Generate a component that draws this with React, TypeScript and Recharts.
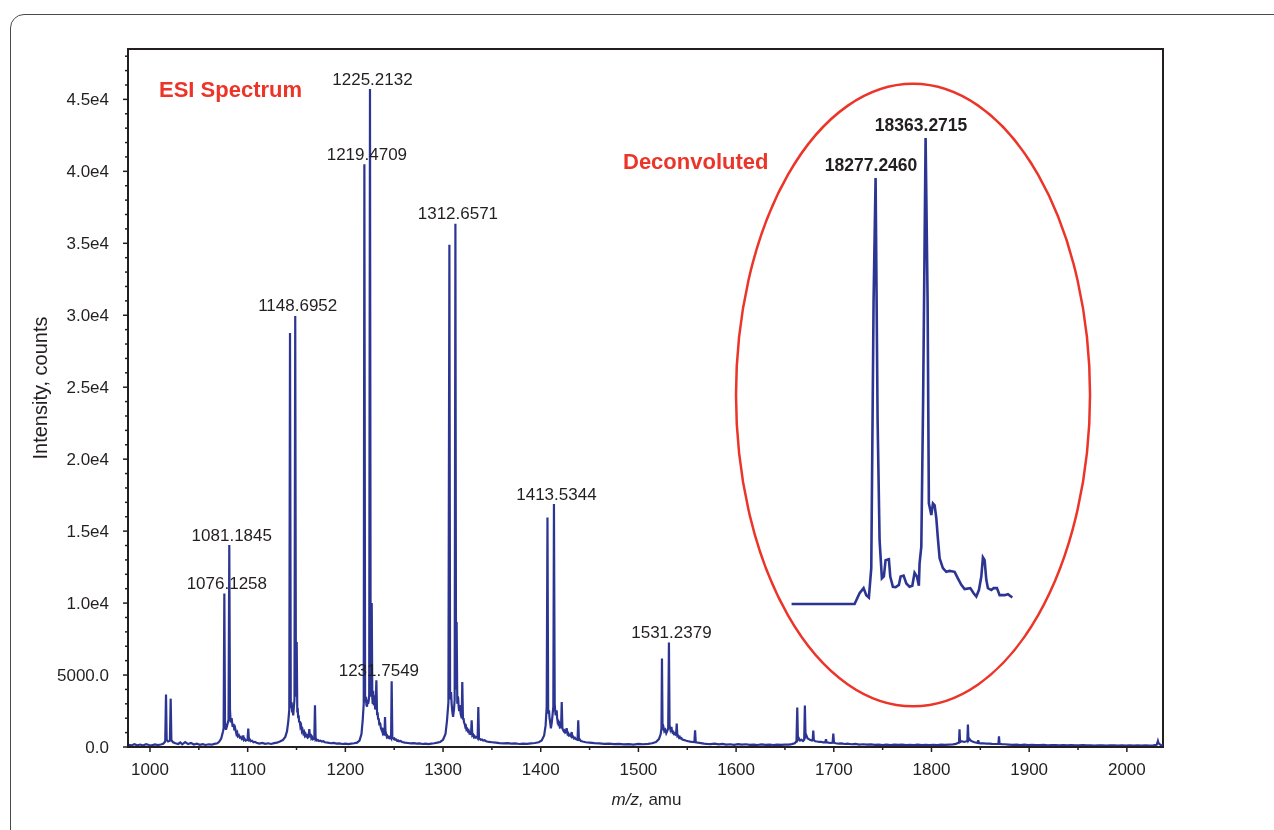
import { LineChart, Line, XAxis, YAxis, ReferenceArea, ReferenceDot, Label } from 'recharts'

const BLUE = '#2c3592'
const RED = '#ec3428'
const INK = '#231f20'
const FONT = "'Liberation Sans', Arial, sans-serif"

// ESI spectrum, [m/z, counts], grouped by charge state
const lowBaseline: [number, number][] = [
  [978, 150], [981, 110], [984, 190], [987, 120], [990, 170], [993, 100], [996, 200],
  [999, 140], [1002, 120], [1005, 180], [1008, 130], [1011, 170], [1013.5, 220],
]
const clusterZ18: [number, number][] = [
  [1015.6, 380], [1016.4, 3640], [1017.1, 520], [1018.5, 380], [1020.4, 430], [1021.2, 3360],
  [1021.9, 480], [1023.6, 330], [1026, 260], [1029, 210], [1031, 320], [1033, 190], [1036, 340],
  [1039, 200], [1042, 280], [1045, 170], [1048, 230], [1051, 150], [1054, 200], [1057, 140],
  [1060, 190], [1063, 160], [1066, 220], [1069, 260], [1071, 380], [1073, 600], [1074.8, 1100],
]
const clusterZ17: [number, number][] = [
  [1075.4, 1300], [1076.1258, 10670], [1076.8, 1700], [1077.8, 1200], [1079, 1500], [1080.4, 1900],
  [1081.1845, 14030], [1081.9, 2600], [1082.6, 1700], [1083.6, 2000], [1084.6, 1400], [1085.6, 1600],
  [1086.4, 1150], [1087.2, 1300], [1088.5, 900], [1089.3, 1000], [1090, 750], [1091, 820],
  [1092, 650], [1093, 700], [1094, 550], [1094.9, 600], [1095.5, 810], [1096.1, 500], [1097, 560],
  [1098, 450], [1099.9, 500], [1100.6, 1280], [1101.3, 480], [1102.2, 520], [1103, 400],
  [1104.5, 430], [1106, 330], [1107.5, 360], [1109, 300], [1112, 240], [1115, 280], [1118, 220],
  [1121, 260], [1124, 210], [1127, 270], [1130, 300], [1133, 380], [1136, 480], [1138.5, 700],
  [1140.3, 1100], [1141.6, 1800], [1142.6, 2600],
]
const clusterZ16: [number, number][] = [
  [1143.34, 28770], [1144.1, 3200], [1144.6, 2700], [1145, 3100], [1145.6, 2400], [1146, 2600],
  [1146.6, 2200], [1147, 2500], [1147.9, 3300], [1148.6952, 29950], [1149.4, 3500], [1150.2, 7300],
  [1150.8, 2400], [1151.2, 2700], [1151.7, 2000], [1152.2, 2200], [1152.7, 1700], [1153.3, 1800],
  [1154, 1400], [1154.7, 1500], [1155.5, 1100], [1156.2, 1200], [1157, 950], [1157.8, 1050],
  [1158.5, 800], [1159.3, 900], [1160, 750], [1160.8, 800], [1161.5, 650], [1162.4, 700],
  [1163.1, 1250], [1163.8, 700], [1164.5, 900], [1165.2, 600], [1166, 680], [1166.7, 550],
  [1167.5, 600], [1168.2, 500], [1168.9, 2900], [1169.6, 500], [1170.3, 540], [1171, 450],
  [1172, 480], [1173, 420], [1174.5, 440], [1176, 380], [1177.5, 400], [1179, 330], [1182, 300],
  [1185, 260], [1188, 280], [1191, 230], [1194, 250], [1197, 210], [1200, 240], [1203, 200],
  [1206, 230], [1209, 260], [1212, 300], [1214.5, 450], [1216.5, 900], [1217.8, 1900], [1218.8, 3000],
]
const clusterZ15: [number, number][] = [
  [1219.4709, 40500], [1220.2, 3600], [1220.6, 3100], [1221.1, 3480], [1221.6, 2900], [1222.2, 2800],
  [1222.8, 3300], [1223.3, 3000], [1223.9, 3200], [1224.4, 3600], [1225.2132, 45720], [1225.9, 4200],
  [1226.4, 3500], [1227, 10000], [1227.6, 3400], [1228.0, 3000], [1228.4, 3900], [1228.8, 3100],
  [1229.2, 2900], [1229.6, 3300], [1230, 3600], [1230.5, 2600], [1230.9, 2800], [1231.7549, 4640],
  [1232.5, 2200], [1233, 2400], [1233.6, 1900], [1234.2, 2000], [1234.8, 1500], [1235.3, 1700],
  [1235.8, 1600], [1236.4, 1300], [1237, 1200], [1237.6, 1350], [1238.3, 1000], [1238.9, 1100],
  [1239.5, 900], [1240, 800], [1240.6, 2090], [1241.2, 800], [1241.8, 900], [1242.5, 700],
  [1243.2, 760], [1244, 650], [1244.8, 700], [1245.5, 620], [1246.2, 660], [1246.8, 600],
  [1247.4, 4570], [1248.1, 650], [1248.8, 600], [1249.5, 550], [1250.2, 590], [1251, 500],
  [1252, 520], [1253, 430], [1254, 460], [1255, 400], [1256.5, 420], [1258, 350], [1261, 300],
  [1264, 280], [1267, 250], [1270, 270], [1273, 230], [1276, 250], [1279, 210], [1282, 240],
  [1285, 200], [1288, 230], [1291, 260], [1294, 300], [1297, 350], [1300, 500], [1302.5, 900],
  [1304, 1800], [1305.5, 3100],
]
const clusterZ14: [number, number][] = [
  [1306.5, 34890], [1307.2, 3800], [1307.7, 3300], [1308.2, 3820], [1308.8, 3000], [1309.3, 2600],
  [1309.8, 2300], [1310.3, 2090], [1310.8, 2400], [1311.2, 2600], [1311.9, 3300], [1312.6571, 36350],
  [1313.3, 4000], [1313.9, 8690], [1314.6, 3000], [1315.1, 3500], [1315.5, 3400], [1316, 2800],
  [1316.5, 2500], [1317, 2900], [1317.5, 2800], [1318, 2300], [1318.4, 2200], [1319.1, 2000],
  [1319.7, 4520], [1320.4, 1900], [1321, 2000], [1321.5, 1700], [1322.2, 1600], [1322.8, 1400],
  [1323.4, 1450], [1324, 1200], [1324.8, 1250], [1325.5, 1100], [1326.2, 1150], [1327, 950],
  [1327.8, 1000], [1328.6, 850], [1329.3, 1860], [1330, 800], [1330.8, 850], [1331.5, 700],
  [1332.2, 760], [1333, 650], [1334.2, 700], [1335.4, 600], [1336.1, 2780], [1336.8, 600],
  [1337.6, 560], [1338.5, 500], [1339.8, 520], [1341, 450], [1342.5, 470], [1344, 400], [1347, 350],
  [1350, 330], [1354, 300], [1358, 270], [1362, 250], [1366, 270], [1370, 230], [1374, 250],
  [1378, 210], [1382, 240], [1386, 220], [1390, 250], [1394, 280], [1398, 330], [1401, 450],
  [1403.5, 800], [1405, 1500], [1406.1, 2800],
]
const clusterZ13: [number, number][] = [
  [1406.9, 15950], [1407.6, 2600], [1408.1, 2300], [1408.5, 2550], [1409, 2000], [1409.5, 1800],
  [1410.4, 1300], [1411.3, 1700], [1412.2, 2300], [1412.9, 2800], [1413.5344, 16880], [1414.3, 3000],
  [1414.8, 2500], [1415.3, 2200], [1415.8, 2400], [1416.3, 2550], [1416.8, 2000], [1417.2, 1800],
  [1417.8, 1900], [1418.3, 1600], [1418.9, 1650], [1419.5, 1400], [1420.2, 1450], [1420.8, 1300],
  [1421.5, 3130], [1422.2, 1300], [1422.8, 1200], [1423.5, 1100], [1424.2, 1150], [1425, 1000],
  [1425.8, 1050], [1426.5, 1300], [1427.5, 900], [1428.2, 950], [1429, 800], [1430, 850],
  [1431, 750], [1431.7, 1040], [1432.4, 700], [1433.2, 720], [1434, 600], [1435, 640], [1436, 550],
  [1437.7, 500], [1438.4, 1860], [1439.1, 500], [1440, 520], [1441, 420], [1443, 380], [1446, 330],
  [1450, 300], [1455, 270], [1460, 250], [1465, 220], [1470, 240], [1475, 200], [1480, 220],
  [1485, 180], [1490, 200], [1495, 170], [1500, 210], [1505, 190], [1510, 220], [1514, 260],
  [1518, 350], [1521, 550], [1522.8, 900], [1523.6, 1300],
]
const clusterZ12: [number, number][] = [
  [1524.1, 6150], [1524.7, 1300], [1525.6, 1400], [1526.5, 1100], [1527.5, 1200], [1528.5, 950],
  [1529.5, 1100], [1530.5, 1300], [1531.2379, 7260], [1531.9, 1500], [1532.8, 1200], [1533.8, 1400],
  [1534.4, 1100], [1535, 1000], [1535.8, 1050], [1536.5, 900], [1537.5, 950], [1538.5, 800],
  [1539.2, 1630], [1539.9, 750], [1540.7, 780], [1541.5, 650], [1542.3, 700], [1543, 600],
  [1544, 620], [1545, 520], [1547, 480], [1549, 430], [1551, 400], [1553, 370], [1555, 350],
  [1557.3, 340], [1558, 1160], [1558.7, 330], [1561, 300], [1564, 270], [1567, 240], [1570, 220],
  [1574, 200], [1578, 230], [1582, 180], [1586, 210], [1590, 160], [1594, 190], [1598, 150],
  [1602, 200], [1606, 170], [1610, 190], [1614, 150], [1618, 170], [1622, 140], [1626, 180],
  [1630, 150], [1634, 170], [1638, 140], [1642, 160], [1646, 150], [1650, 170], [1654, 160],
  [1657, 200], [1660, 260], [1661.8, 400],
]
const clusterZ11: [number, number][] = [
  [1662.6, 2740], [1663.3, 500], [1664.3, 600], [1665.5, 450], [1667, 500], [1668.5, 420],
  [1669.7, 500], [1670.4, 2880], [1671.1, 700], [1672, 800], [1673.2, 600], [1674.5, 550],
  [1676, 480], [1677.8, 450], [1678.4, 500], [1679, 1140], [1679.6, 480], [1681, 400], [1683, 380],
  [1685, 350], [1687, 360], [1689, 320], [1691.3, 330], [1692, 535], [1692.7, 320], [1694.5, 300],
  [1696.5, 280], [1698.8, 300], [1699.5, 930], [1700.2, 300], [1702, 260], [1705, 230], [1708, 250],
  [1711, 210], [1714, 230], [1718, 190], [1722, 210], [1726, 170], [1730, 190], [1734, 160],
  [1738, 180], [1742, 150], [1746, 170], [1750, 140], [1754, 160], [1758, 140], [1762, 170],
  [1766, 150], [1770, 160], [1774, 140], [1778, 150], [1782, 130], [1786, 160], [1790, 140],
  [1794, 150], [1798, 130], [1802, 150], [1806, 140], [1810, 160], [1814, 150], [1818, 170],
  [1822, 180], [1825, 220], [1827.5, 300],
]
const clusterZ10: [number, number][] = [
  [1828.2, 320], [1828.7, 1230], [1829.3, 350], [1830.5, 400], [1832, 380], [1833.5, 350],
  [1835, 380], [1836.7, 420], [1837.3, 1560], [1837.9, 450], [1839, 550], [1840.5, 420], [1842, 380],
  [1844, 330], [1846, 300], [1847.4, 280], [1847.9, 470], [1848.5, 280], [1850.5, 250], [1853, 260],
  [1856, 230], [1859, 240], [1862, 220], [1865, 210], [1868.5, 220], [1869.1, 740], [1869.7, 220],
  [1872, 200], [1875, 190],
]
const highTail: [number, number][] = [
  [1879, 170], [1883, 150], [1887, 170], [1891, 140], [1895, 160], [1899, 130], [1903, 150],
  [1907, 140], [1911, 130], [1915, 150], [1919, 120], [1923, 140], [1927, 130], [1931, 120],
  [1935, 140], [1939, 110], [1943, 130], [1947, 120], [1951, 110], [1955, 130], [1959, 110],
  [1963, 120], [1967, 100], [1971, 120], [1975, 110], [1979, 100], [1983, 120], [1987, 110],
  [1991, 100], [1995, 110], [1999, 100], [2003, 120], [2007, 100], [2011, 110], [2015, 100],
  [2019, 120], [2023, 100], [2027, 110], [2030.5, 150], [2031.3, 300], [2031.8, 420],
  [2032.4, 280], [2033.5, 200], [2035, 130], [2037, 120],
]

// labelled ESI peaks
const peakLabels: [number, number][] = [
  [1076.1258, 10670], [1081.1845, 14030], [1148.6952, 29950], [1219.4709, 40500],
  [1225.2132, 45720], [1231.7549, 4640], [1312.6571, 36350], [1413.5344, 16880], [1531.2379, 7260],
]

// deconvoluted inset, [mass (Da), relative intensity %]
const deconvoluted: [number, number][] = [
  [18132.7, 0], [18241.1, 0], [18249.7, 2.3], [18256.6, 3.4], [18261.2, 1.9], [18265.7, 1.4],
  [18269.8, 7.7], [18273.8, 65.2], [18277.246, 91.4], [18280.7, 39.5], [18284.1, 13.7],
  [18288.1, 5.5], [18291.5, 5.9], [18294.4, 9.4], [18300.1, 9.6], [18302.5, 5.9], [18307.0, 3.7],
  [18311.7, 3.6], [18317.3, 4.1], [18320.3, 5.9], [18325.4, 6.1], [18330.1, 4.4], [18335.7, 3.7],
  [18340.4, 3.9], [18344.3, 6.7], [18348.3, 5.9], [18351.7, 3.9], [18352.9, 8.7], [18355.9, 12.3],
  [18359.0, 43.8], [18363.2715, 100], [18366.7, 65.2], [18368.9, 21.6], [18373.1, 19.1],
  [18375.9, 21.6], [18378.8, 21.2], [18381.7, 18.4], [18384.4, 14.1], [18387.4, 9.8], [18393.0, 7.7],
  [18398.9, 6.9], [18404.6, 7.1], [18413.2, 6.9], [18418.8, 5.5], [18424.7, 4.1], [18430.4, 3.2],
  [18440.2, 3.4], [18445.9, 2.3], [18450.5, 1.6], [18455.0, 3.0], [18459.1, 5.9], [18461.9, 10.0],
  [18464.8, 9.4], [18467.7, 5.2], [18470.5, 3.4], [18476.3, 3.0], [18480.3, 3.4], [18486.0, 3.4],
  [18490.6, 1.9], [18499.2, 1.9], [18504.9, 2.1], [18512.4, 1.4],
]
const decoLabels: [number, number][] = [[18277.246, 91.4], [18363.2715, 100]]

const xMajorTicks = [1000, 1100, 1200, 1300, 1400, 1500, 1600, 1700, 1800, 1900, 2000]
const xMinorTicks = [1050, 1150, 1250, 1350, 1450, 1550, 1650, 1750, 1850, 1950]
const yMajorTicks = [0, 5000, 10000, 15000, 20000, 25000, 30000, 35000, 40000, 45000]
const yMinorTicks = [
  1000, 2000, 3000, 4000, 6000, 7000, 8000, 9000, 11000, 12000, 13000, 14000, 16000, 17000, 18000,
  19000, 21000, 22000, 23000, 24000, 26000, 27000, 28000, 29000, 31000, 32000, 33000, 34000, 36000,
  37000, 38000, 39000, 41000, 42000, 43000, 44000, 46000, 47000, 48000,
]

const X_DOMAIN: [number, number] = [977.5, 2037]
const Y_DOMAIN: [number, number] = [0, 48500]

const spectrum = [
  ...lowBaseline, ...clusterZ18, ...clusterZ17, ...clusterZ16, ...clusterZ15, ...clusterZ14,
  ...clusterZ13, ...clusterZ12, ...clusterZ11, ...clusterZ10, ...highTail,
].map(([mz, counts]) => ({ mz, counts }))
const insetData = deconvoluted.map(([mass, rel]) => ({ mass, rel }))
const xTicks = [...xMajorTicks, ...xMinorTicks].sort((a, b) => a - b)
const yTicks = [...yMajorTicks, ...yMinorTicks].sort((a, b) => a - b)

const formatY = (v: number) => (v === 0 ? '0.0' : v < 10000 ? v.toFixed(1) : (v / 10000).toFixed(1) + 'e4')

function XTick({ x, y, payload }: any) {
  const major = xMajorTicks.includes(payload.value)
  return (
    <g>
      <line x1={x} x2={x} y1={y} y2={y + (major ? 5 : 3)} stroke={INK} strokeWidth={1.5} />
      {major && (
        <text x={x} y={y + 28} textAnchor="middle" fontSize={17} fill={INK} fontFamily={FONT}>
          {payload.value}
        </text>
      )}
    </g>
  )
}

function YTick({ x, y, payload }: any) {
  const major = yMajorTicks.includes(payload.value)
  return (
    <g>
      <line x1={x - (major ? 5 : 3)} x2={x} y1={y} y2={y} stroke={INK} strokeWidth={1.5} />
      {major && (
        <text x={x - 19} y={y + 6} textAnchor="end" fontSize={17} fill={INK} fontFamily={FONT}>
          {formatY(payload.value)}
        </text>
      )}
    </g>
  )
}

const XTitle = ({ viewBox }: any) => (
  <text x={viewBox.x + viewBox.width / 2 + 1} y={viewBox.y + 58} textAnchor="middle" fontSize={17} fill={INK} fontFamily={FONT}>
    <tspan fontStyle="italic">m/z,</tspan> amu
  </text>
)

const YTitle = ({ viewBox }: any) => {
  const x = viewBox.x - 1
  const y = viewBox.y + viewBox.height / 2 - 10
  return (
    <text x={x} y={y} transform={`rotate(-90, ${x}, ${y})`} textAnchor="middle" fontSize={20} fill={INK} fontFamily={FONT}>
      Intensity, counts
    </text>
  )
}

const Ellipse = (p: any) => (
  <ellipse
    cx={p.x + p.width / 2}
    cy={p.y + p.height / 2}
    rx={p.width / 2}
    ry={p.height / 2}
    fill="none"
    stroke={RED}
    strokeWidth={2.5}
  />
)

export default function App() {
  return (
    <div style={{ position: 'relative', width: 1258, height: 814 }}>
      <div
        style={{
          position: 'fixed', left: 10, top: 14, width: 1400, height: 1000,
          border: '1.5px solid #4a4a4a', borderRadius: 14,
        }}
      />
      <div style={{ position: 'absolute', left: 0, top: 0 }}>
        <LineChart width={1200} height={810} data={spectrum} margin={{ top: 41, right: 45, bottom: 10, left: 40 }}>
          <XAxis
            dataKey="mz" type="number" domain={X_DOMAIN} allowDataOverflow ticks={xTicks} interval={0}
            tick={<XTick />} tickLine={false} tickSize={0} tickMargin={0} height={61}
            axisLine={{ stroke: INK, strokeWidth: 2 }}
            label={<Label content={XTitle} />}
          />
          <YAxis
            type="number" domain={Y_DOMAIN} allowDataOverflow ticks={yTicks} interval={0}
            tick={<YTick />} tickLine={false} tickSize={0} tickMargin={0} width={80}
            axisLine={{ stroke: INK, strokeWidth: 2 }}
            label={<Label content={YTitle} />}
          />
          <ReferenceArea
            x1={X_DOMAIN[0]} x2={X_DOMAIN[1]} y1={Y_DOMAIN[0]} y2={Y_DOMAIN[1]}
            fill="none" fillOpacity={0} stroke={INK} strokeWidth={2} ifOverflow="visible"
          />
          <ReferenceArea x1={1599.9} x2={1962.3} y1={2830} y2={46085} shape={Ellipse} ifOverflow="visible" />
          <Line dataKey="counts" type="linear" dot={false} stroke={BLUE} strokeWidth={2.2} isAnimationActive={false} />
          {peakLabels.map(([mz, counts]) => (
            <ReferenceDot
              key={mz} x={mz} y={counts} r={0} fill="none" stroke="none"
              label={{ value: mz.toFixed(4), position: 'top', offset: 4.5, dx: 2.5, fontSize: 17, fill: INK, fontFamily: FONT }}
            />
          ))}
        </LineChart>
      </div>
      <div style={{ position: 'absolute', left: 772.4, top: 90 }}>
        <LineChart width={244} height={516} data={insetData} margin={{ top: 40, right: 10.2, bottom: 10, left: 10 }}>
          <XAxis dataKey="mass" type="number" domain={[18130, 18515]} hide />
          <YAxis type="number" domain={[0, 100]} hide />
          <Line dataKey="rel" type="linear" dot={false} stroke={BLUE} strokeWidth={2.6} isAnimationActive={false} />
          {decoLabels.map(([mass, rel]) => (
            <ReferenceDot
              key={mass} x={mass} y={rel} r={0} fill="none" stroke="none"
              label={{ value: mass.toFixed(4), position: 'top', offset: 7.5, dx: -4.5, fontSize: 17.5, fontWeight: 700, fill: INK, fontFamily: FONT }}
            />
          ))}
        </LineChart>
      </div>
      <svg width={1258} height={814} style={{ position: 'absolute', left: 0, top: 0, pointerEvents: 'none' }}>
        <text x={151} y={89} fontSize={22} fontWeight={700} fill={RED} fontFamily={FONT}>ESI Spectrum</text>
        <text x={615} y={161} fontSize={22} fontWeight={700} fill={RED} fontFamily={FONT}>Deconvoluted</text>
      </svg>
    </div>
  )
}
